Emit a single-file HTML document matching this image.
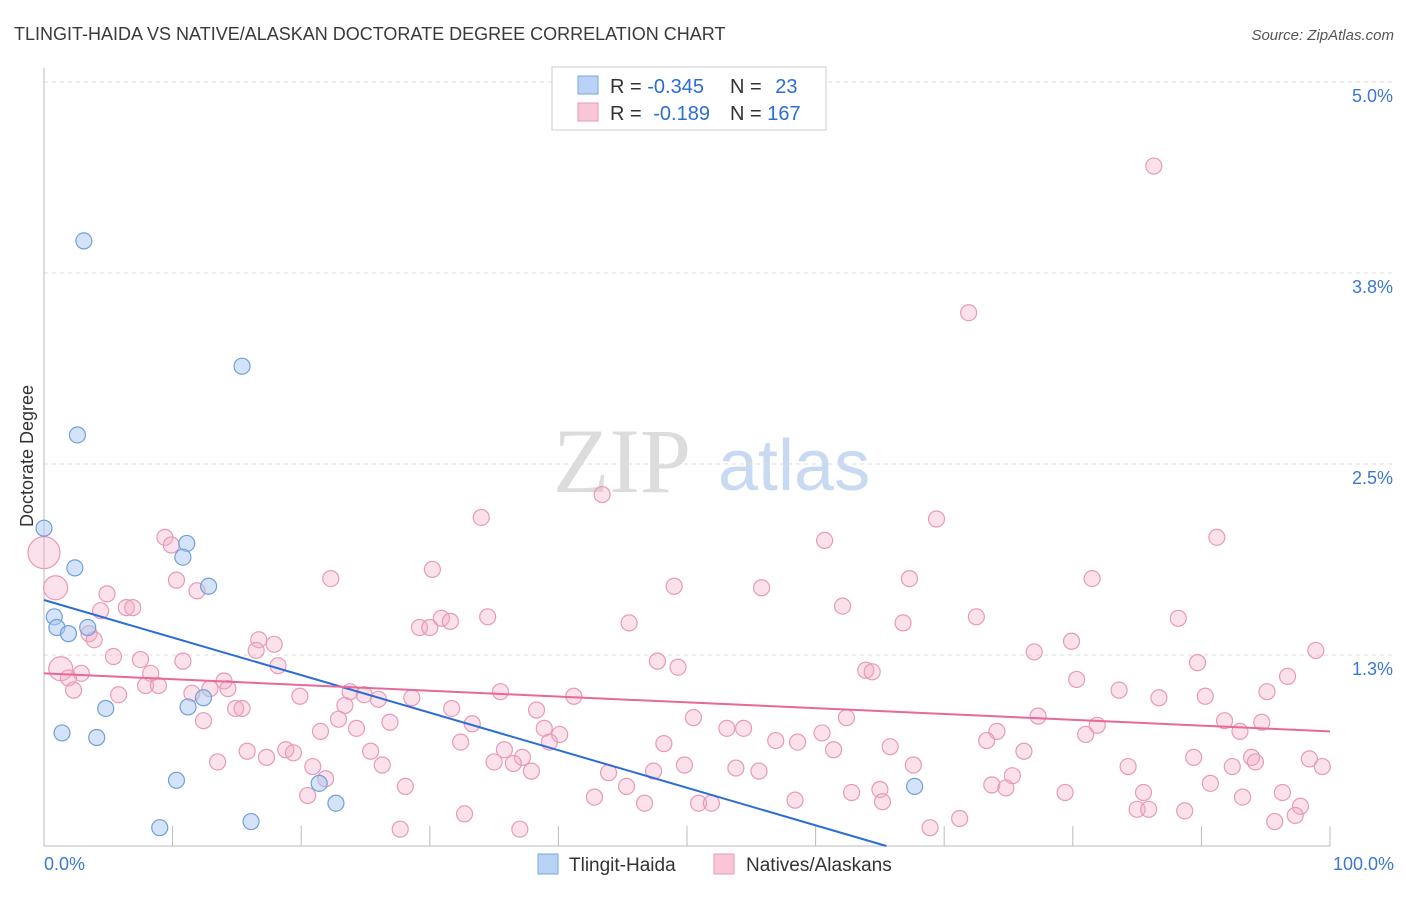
<!DOCTYPE html>
<html><head><meta charset="utf-8"><style>
body{margin:0;background:#fff;font-family:"Liberation Sans",sans-serif}
svg text{font-family:"Liberation Sans",sans-serif}
</style></head><body>
<svg id="chart" width="1406" height="892" viewBox="0 0 1406 892">
<text x="14" y="40" font-size="18" fill="#3a3a3a">TLINGIT-HAIDA VS NATIVE/ALASKAN DOCTORATE DEGREE CORRELATION CHART</text>
<text x="1394" y="40" font-size="15" fill="#555" text-anchor="end" font-style="italic">Source: ZipAtlas.com</text>
<g>
<text x="553" y="492" font-size="92" fill="#dcdcdc" font-family="Liberation Serif" style="font-family:'Liberation Serif',serif">ZIP</text>
<text x="718" y="490" font-size="72" fill="#c8daf2">atlas</text>
</g>
<g id="grid"></g>
<g id="axes"></g>
<g id="pts"></g>
<g id="lines"></g>
<g>
<rect x="552" y="67" width="274" height="63" fill="#fff" stroke="#ccc"/>
<rect x="578" y="76" width="20" height="18" fill="#b8d3f5" stroke="#7aa7e0"/>
<rect x="578" y="103" width="20" height="18" fill="#f9c6d6" stroke="#e89ab5"/>
<text x="610" y="93" font-size="20" fill="#333">R = <tspan fill="#2a6dd9">-0.345</tspan></text>
<text x="730" y="93" font-size="20" fill="#333">N = <tspan fill="#2a6dd9" dx="8">23</tspan></text>
<text x="610" y="120" font-size="20" fill="#333">R = <tspan fill="#2a6dd9" dx="6">-0.189</tspan></text>
<text x="730" y="120" font-size="20" fill="#333">N = <tspan fill="#2a6dd9">167</tspan></text>
</g>
<g>
<rect x="538" y="854" width="20" height="20" fill="#b8d3f5" stroke="#7aa7e0"/>
<text x="569" y="871" font-size="19" fill="#333">Tlingit-Haida</text>
<rect x="714" y="854" width="20" height="20" fill="#f9c6d6" stroke="#e89ab5"/>
<text x="746" y="871" font-size="19" fill="#333">Natives/Alaskans</text>
</g>
<text transform="translate(33,456) rotate(-90)" font-size="18" fill="#333" text-anchor="middle">Doctorate Degree</text>
</svg>
<script>
const yTicks=[1.25,2.5,3.75,5.0];
const yTickLabels=["1.3%","2.5%","3.8%","5.0%"];
const xTickLabels=["0.0%","100.0%"];
const blueX=[3.1,15.4,2.6,0,2.4,11.1,10.8,12.8,0.8,1.0,1.9,3.4,4.8,1.4,4.1,11.2,12.4,10.3,21.4,22.7,9.0,16.1,67.7];
const blueY=[3.96,3.14,2.69,2.08,1.82,1.98,1.89,1.70,1.50,1.43,1.39,1.43,0.90,0.74,0.71,0.91,0.97,0.43,0.41,0.28,0.12,0.16,0.39];
const pinkX=[86.3,71.9,43.4,34.0,69.4,60.7,91.2,9.4,9.9,0,0.9,10.3,22.3,30.2,49.0,55.8,67.3,81.5,4.9,11.9,4.4,6.4,6.9,62.1,72.5,88.2,34.5,30.9,31.6,29.2,30.0,45.5,66.8,3.5,3.9,16.7,17.9,16.5,79.9,77.0,98.9,5.4,7.5,10.8,18.2,47.7,49.3,63.9,64.4,89.7,1.3,2.9,1.9,8.3,2.3,7.9,8.9,5.8,11.5,12.9,14.0,14.3,96.7,80.3,83.6,86.7,90.3,95.1,19.9,23.8,24.9,26.0,28.6,35.5,41.2,23.4,31.7,38.3,14.9,15.4,12.4,22.9,26.9,33.3,38.9,40.1,50.5,53.1,54.4,62.4,77.3,81.9,81.0,91.8,94.7,93.0,74.1,73.3,21.5,24.3,32.4,35.8,37.2,39.3,48.2,56.9,58.6,60.5,61.4,65.8,76.2,89.4,98.4,93.9,15.8,13.5,17.3,18.8,19.4,25.4,26.3,20.9,35.0,36.5,37.9,43.9,47.4,49.8,53.8,55.6,67.6,75.3,84.3,92.4,94.2,99.4,90.7,21.9,28.1,73.7,74.8,85.5,79.4,96.3,45.3,62.8,65.0,20.5,42.8,46.7,50.9,51.9,58.4,65.2,93.2,85.0,85.9,88.7,97.7,97.3,95.7,32.7,71.2,68.9,27.7,37.0];
const pinkY=[4.45,3.49,2.30,2.15,2.14,2.00,2.02,2.02,1.97,1.92,1.69,1.74,1.75,1.81,1.70,1.69,1.75,1.75,1.65,1.67,1.54,1.56,1.56,1.57,1.50,1.49,1.50,1.49,1.47,1.43,1.43,1.46,1.46,1.39,1.35,1.35,1.32,1.28,1.34,1.27,1.28,1.24,1.22,1.21,1.18,1.21,1.17,1.15,1.14,1.20,1.16,1.13,1.10,1.13,1.02,1.05,1.05,0.99,1.00,1.03,1.08,1.03,1.11,1.09,1.02,0.97,0.98,1.01,0.98,1.01,0.99,0.96,0.97,1.01,0.98,0.92,0.90,0.89,0.90,0.90,0.82,0.83,0.81,0.80,0.77,0.73,0.84,0.77,0.77,0.84,0.85,0.79,0.73,0.82,0.81,0.75,0.75,0.69,0.75,0.77,0.68,0.63,0.58,0.68,0.67,0.69,0.68,0.74,0.63,0.65,0.62,0.58,0.57,0.58,0.62,0.55,0.58,0.63,0.61,0.62,0.53,0.52,0.55,0.54,0.49,0.48,0.49,0.53,0.51,0.49,0.53,0.46,0.52,0.52,0.55,0.52,0.41,0.44,0.39,0.40,0.38,0.35,0.35,0.35,0.39,0.35,0.37,0.33,0.32,0.28,0.28,0.28,0.30,0.29,0.32,0.24,0.24,0.23,0.26,0.20,0.16,0.21,0.18,0.12,0.11,0.11];
const pinkBig=[9,10,50];
const blueTrend=[[0,1.61],[65.5,0]];
const pinkTrend=[[0,1.13],[100,0.75]];
const X0=44,X1=1330,Y0=846,PX=152.8;
const xs=v=>X0+(X1-X0)*v/100, ys=v=>Y0-v*PX;
const NS="http://www.w3.org/2000/svg";
function mk(t,a,p){const e=document.createElementNS(NS,t);for(const k in a)e.setAttribute(k,a[k]);p.appendChild(e);return e;}
const grid=document.getElementById('grid'),axes=document.getElementById('axes');
yTicks.forEach((v,i)=>{
 const l=mk('line',{x1:X0,x2:1392,y1:ys(v),y2:ys(v),stroke:'#ddd','stroke-dasharray':'4,4'},grid);
 
 
 const t=mk('text',{x:1393,y:ys(v)+20,'font-size':18,fill:'#3a78d4','text-anchor':'end'},axes);
 t.textContent=yTickLabels[i];
 
 
});
mk('line',{x1:X0,x2:X0,y1:68,y2:Y0,stroke:'#bbb'},axes);
mk('line',{x1:X0,x2:X1,y1:Y0,y2:Y0,stroke:'#bbb'},axes);
for(let i=1;i<=10;i++){const x=xs(i*10);const t=mk('line',{x1:x,x2:x,y1:Y0,y2:Y0-20,stroke:'#bbb'},axes);
 
 }
[[0,'start',44],[100,'end',1394]].forEach((d,i)=>{const t=mk('text',{x:d[2],y:870,'font-size':18,fill:'#3a78d4','text-anchor':d[1]},axes);t.textContent=xTickLabels[i];
 
 });
const pts=document.getElementById('pts');
pinkX.forEach((v,i)=>{const c=mk('circle',{cx:xs(v),cy:ys(pinkY[i]),r:pinkBig.includes(i)?(i==9?16:12):8,fill:'rgba(244,170,198,0.35)',stroke:'#e89ab5','stroke-width':1.2},pts);
 
 });
blueX.forEach((v,i)=>{const c=mk('circle',{cx:xs(v),cy:ys(blueY[i]),r:8,fill:'rgba(170,200,242,0.5)',stroke:'#6f9fdc','stroke-width':1.2},pts);
 
 });
const lines=document.getElementById('lines');
const bl=mk('line',{x1:xs(blueTrend[0][0]),y1:ys(blueTrend[0][1]),x2:xs(blueTrend[1][0]),y2:ys(blueTrend[1][1]),stroke:'#2a6dd9','stroke-width':2},lines);


const pl=mk('line',{x1:xs(pinkTrend[0][0]),y1:ys(pinkTrend[0][1]),x2:xs(pinkTrend[1][0]),y2:ys(pinkTrend[1][1]),stroke:'#e8689a','stroke-width':2},lines);


</script>
</body></html>
